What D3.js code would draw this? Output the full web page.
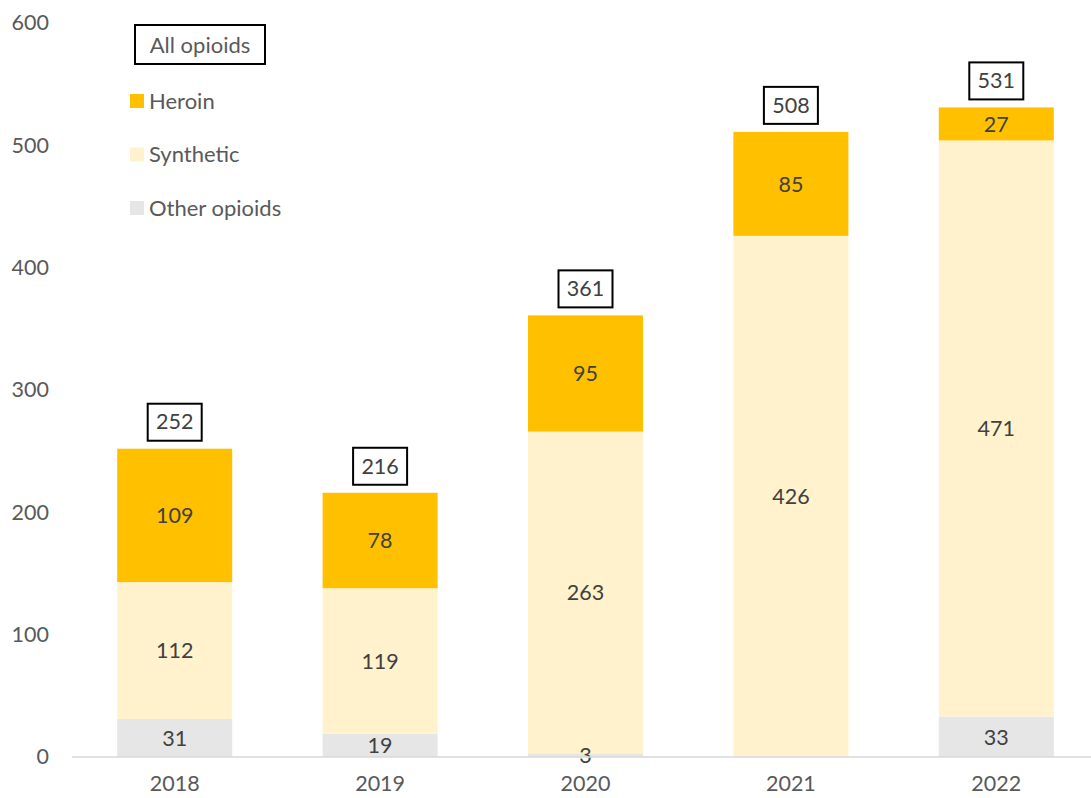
<!DOCTYPE html>
<html>
<head>
<meta charset="utf-8">
<script src="https://cdn.jsdelivr.net/npm/d3@7"></script>
<style>
  html, body { margin: 0; padding: 0; background: #fff; }
  svg { display: block; font-family: Lato, "Open Sans", sans-serif; }
</style>
</head>
<body>
<svg id="chart" width="1091" height="798"></svg>
<script>
// Opioid deaths by type, stacked per year
const years = ["2018", "2019", "2020", "2021", "2022"];
const otherOpioids = [31, 19, 3, 0, 33];
const synthetic = [112, 119, 263, 426, 471];
const heroin = [109, 78, 95, 85, 27];
const allOpioids = [252, 216, 361, 508, 531];
const yTicks = [0, 100, 200, 300, 400, 500, 600];

const seriesNames = ["Other opioids", "Synthetic", "Heroin"];
const seriesColors = { "Other opioids": "#E7E6E6", "Synthetic": "#FFF2CC", "Heroin": "#FFC000" };
const FS = 21.5;

const rows = years.map((y, i) => ({
  year: y,
  "Other opioids": otherOpioids[i],
  "Synthetic": synthetic[i],
  "Heroin": heroin[i],
  total: allOpioids[i]
}));

const svg = d3.select("#chart");

const x = d3.scaleBand().domain(years).range([72, 1099]).paddingInner(0.44).paddingOuter(0.22);
const y = d3.scaleLinear().domain([0, 600]).range([757, 23]);

const stack = d3.stack().keys(seriesNames);
const layers = stack(rows);

// Stacked bars
const g = svg.append("g");
layers.forEach(layer => {
  g.selectAll(null)
    .data(layer)
    .join("rect")
    .attr("x", d => x(d.data.year))
    .attr("width", x.bandwidth())
    .attr("y", d => y(d[1]))
    .attr("height", d => y(d[0]) - y(d[1]))
    .attr("fill", seriesColors[layer.key]);
});

// Segment value labels
layers.forEach(layer => {
  g.selectAll(null)
    .data(layer.filter(d => d.data[layer.key] > 0))
    .join("text")
    .attr("x", d => x(d.data.year) + x.bandwidth() / 2)
    .attr("y", d => (y(d[0]) + y(d[1])) / 2)
    .attr("dy", "0.36em")
    .attr("text-anchor", "middle")
    .attr("font-size", FS)
    .attr("fill", "#404040")
    .text(d => d.data[layer.key]);
});

// Baseline
svg.append("line")
  .attr("x1", 72).attr("x2", 1091)
  .attr("y1", y(0)).attr("y2", y(0))
  .attr("stroke", "#D9D9D9").attr("stroke-width", 1.5);

// Y axis (labels only)
const yAxis = d3.axisLeft(y).tickValues(yTicks).tickSize(0).tickPadding(0);
const ya = svg.append("g").attr("transform", "translate(49,0)").call(yAxis);
ya.select(".domain").remove();
ya.selectAll("text")
  .attr("font-family", "Lato, 'Open Sans', sans-serif")
  .attr("font-size", FS)
  .attr("fill", "#595959");

// X axis (labels only)
const xAxis = d3.axisBottom(x).tickSize(0).tickPadding(0);
const xa = svg.append("g").attr("transform", "translate(0,776)").call(xAxis);
xa.select(".domain").remove();
xa.selectAll("text")
  .attr("font-family", "Lato, 'Open Sans', sans-serif")
  .attr("font-size", FS)
  .attr("fill", "#595959");

// Total labels in boxes above each bar
const totals = svg.append("g").selectAll("g")
  .data(rows)
  .join("g")
  .attr("transform", d => {
    const top = y(d["Other opioids"] + d["Synthetic"] + d["Heroin"]);
    return `translate(${x(d.year) + x.bandwidth() / 2},${top - 27})`;
  });
totals.append("rect")
  .attr("x", -27).attr("y", -18)
  .attr("width", 54).attr("height", 37)
  .attr("fill", "#fff").attr("stroke", "#000").attr("stroke-width", 2);
totals.append("text")
  .attr("text-anchor", "middle")
  .attr("dy", "0.36em")
  .attr("font-size", FS)
  .attr("fill", "#404040")
  .text(d => d.total);

// Legend
const legend = svg.append("g");
legend.append("rect")
  .attr("x", 135).attr("y", 25).attr("width", 130).attr("height", 39)
  .attr("fill", "#fff").attr("stroke", "#000").attr("stroke-width", 2);
legend.append("text")
  .attr("x", 200).attr("y", 45).attr("dy", "0.36em")
  .attr("text-anchor", "middle")
  .attr("font-size", 22).attr("fill", "#595959")
  .text("All opioids");

const legendItems = ["Heroin", "Synthetic", "Other opioids"];
legendItems.forEach((name, i) => {
  const cy = 101 + i * 53.5;
  legend.append("rect")
    .attr("x", 130).attr("y", cy - 7).attr("width", 14).attr("height", 14)
    .attr("fill", seriesColors[name]);
  legend.append("text")
    .attr("x", 149).attr("y", cy).attr("dy", "0.36em")
    .attr("font-size", 22).attr("fill", "#595959")
    .text(name);
});
</script>
</body>
</html>
